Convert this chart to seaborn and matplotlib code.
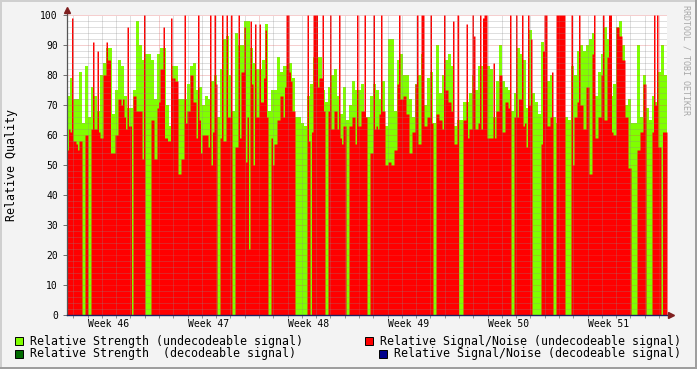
import numpy as np
import pandas as pd
import matplotlib
matplotlib.use("Agg")
import matplotlib.pyplot as plt
import seaborn as sns
from matplotlib.patches import Rectangle

# -----------------------------------------------------------------------------
# Data (6 weeks): strength one sample per ~5 h, signal/noise per ~2.5 h
# -----------------------------------------------------------------------------
strength_undec = [
    73, 79, 72, 72, 81, 64, 83, 66, 76, 73, 68, 80, 84, 89, 89, 67, 75, 85, 83, 73,
    69, 69, 75, 98, 90, 85, 87, 87, 85, 72, 87, 89, 89, 70, 63, 83, 83, 72, 72, 72,
    77, 83, 84, 75, 76, 70, 73, 72, 78, 80, 66, 82, 92, 93, 80, 68, 94, 90, 90, 98,
    98, 89, 84, 82, 82, 85, 97, 68, 75, 75, 86, 81, 83, 83, 84, 79, 66, 66, 64, 63,
    73, 77, 86, 86, 86, 75, 71, 76, 80, 82, 73, 67, 76, 65, 70, 78, 75, 75, 77, 66,
    66, 73, 77, 75, 72, 78, 63, 92, 92, 68, 85, 87, 80, 80, 72, 66, 77, 80, 87, 70,
    79, 81, 64, 90, 74, 80, 85, 87, 83, 63, 65, 65, 71, 71, 74, 80, 75, 83, 83, 83,
    83, 82, 66, 78, 90, 78, 76, 75, 68, 74, 89, 87, 85, 69, 95, 74, 71, 67, 91, 72,
    78, 80, 66, 64, 64, 64, 66, 65, 83, 80, 88, 90, 88, 90, 92, 94, 73, 81, 87, 96,
    92, 73, 77, 96, 98, 90, 70, 72, 64, 64, 90, 66, 80, 69, 65, 73, 71, 81, 90, 80,
]
snr_undec = [
    55, 62, 61, 99, 58, 58, 57, 55, 58, 58, 0, 0, 60, 60, 0, 0, 62, 91, 62, 62,
    88, 61, 59, 59, 80, 80, 91, 85, 85, 54, 54, 54, 60, 60, 72, 72, 70, 72, 66, 62,
    96, 63, 63, 0, 73, 73, 68, 68, 68, 68, 52, 100, 0, 0, 0, 0, 65, 65, 52, 52,
    69, 71, 82, 82, 96, 59, 59, 58, 58, 99, 79, 79, 78, 78, 47, 47, 52, 52, 100, 64,
    68, 68, 80, 80, 71, 71, 59, 100, 65, 54, 60, 60, 60, 60, 56, 100, 50, 61, 100, 77,
    0, 0, 59, 100, 58, 58, 100, 66, 66, 100, 0, 0, 56, 56, 100, 59, 81, 81, 96, 51,
    66, 22, 98, 77, 50, 97, 66, 66, 97, 71, 71, 79, 95, 66, 0, 0, 59, 50, 57, 57,
    65, 65, 73, 73, 66, 76, 100, 100, 81, 78, 68, 68, 0, 0, 0, 0, 0, 0, 0, 0,
    100, 58, 0, 61, 100, 100, 100, 76, 79, 79, 100, 68, 0, 0, 68, 100, 62, 62, 68, 68,
    62, 100, 59, 57, 63, 63, 0, 0, 63, 63, 66, 66, 57, 100, 63, 63, 68, 68, 100, 66,
    0, 0, 54, 54, 100, 62, 63, 62, 67, 100, 68, 68, 50, 50, 51, 51, 50, 50, 55, 55,
    77, 100, 72, 72, 73, 73, 67, 67, 54, 54, 61, 61, 77, 100, 57, 57, 100, 100, 63, 63,
    66, 66, 100, 64, 0, 0, 67, 67, 65, 65, 62, 100, 75, 75, 71, 71, 68, 98, 57, 57,
    100, 0, 0, 0, 65, 65, 97, 59, 62, 62, 100, 93, 62, 62, 64, 100, 62, 99, 100, 100,
    59, 59, 59, 59, 84, 59, 68, 68, 80, 80, 61, 61, 71, 71, 69, 100, 0, 0, 66, 100,
    66, 72, 72, 100, 63, 64, 56, 100, 70, 92, 0, 0, 0, 0, 0, 0, 57, 88, 100, 100,
    63, 63, 66, 81, 0, 0, 100, 100, 100, 100, 100, 100, 0, 0, 0, 0, 100, 50, 66, 66,
    71, 100, 70, 70, 62, 62, 76, 76, 47, 47, 87, 100, 59, 59, 66, 66, 80, 100, 65, 65,
    86, 100, 100, 61, 60, 60, 96, 96, 93, 93, 85, 85, 66, 66, 49, 49, 0, 0, 0, 0,
    55, 55, 61, 61, 77, 77, 0, 0, 0, 0, 61, 100, 70, 100, 56, 56, 0, 61, 61, 61,
]
week_labels = ["Week 46", "Week 47", "Week 48", "Week 49", "Week 50", "Week 51"]
legend_labels = [
    "Relative Strength (undecodeable signal)",
    "Relative Strength  (decodeable signal)",
    "Relative Signal/Noise (undecodeable signal)",
    "Relative Signal/Noise (decodeable signal)",
]

# -----------------------------------------------------------------------------
# Layout constants (rrdtool look)
# -----------------------------------------------------------------------------
W, H = 697, 369
PX_LEFT, PX_RIGHT, PX_TOP, PX_BOTTOM = 67, 667, 15, 315
DAY_PER_PX = 7 / 100          # one week = 100 px
T0 = 0.56                     # start, days after monday week 46
T1 = T0 + (PX_RIGHT - PX_LEFT) * DAY_PER_PX

GREEN, RED = "#80FF00", "#FF0000"
DARKGREEN, NAVY = "#006A00", "#00008B"
BACK, SHADEA, SHADEB = "#F3F3F3", "#CFCFCF", "#9E9E9E"
MGRID = (0.87, 0.31, 0.31, 0.55)
GRID = (0.55, 0.55, 0.55, 0.55)
ARROW = "#7F1F1F"
MONO = ["DejaVu Sans Mono"]


def series_frame(values):
    """Place samples evenly over the plotted time span."""
    step = (T1 - T0) / len(values)
    return pd.DataFrame({"day": T0 + step * (np.arange(len(values)) + 0.5),
                         "value": values}), step


plt.rcParams["font.family"] = MONO
fig = plt.figure(figsize=(W / 100, H / 100), dpi=100, facecolor=BACK)
ax = fig.add_axes([PX_LEFT / W, 1 - PX_BOTTOM / H,
                   (PX_RIGHT - PX_LEFT) / W, (PX_BOTTOM - PX_TOP) / H])
ax.set_facecolor("white")

for values, color, z in [(strength_undec, GREEN, 1), (snr_undec, RED, 2)]:
    df, step = series_frame(values)
    sns.histplot(data=df, x="day", weights="value", binwidth=step, binrange=(T0, T1),
                 element="step", fill=True, alpha=1, linewidth=0, color=color,
                 zorder=z, ax=ax)

ax.set_xlim(T0, T1)
ax.set_ylim(0, 100)
ax.set_xlabel("")
ax.set_ylabel("")
for s in ax.spines.values():
    s.set_visible(False)

# grid on top of the data, dotted like rrdtool
dots = (0, (1, 1))
for y in range(2, 101, 2):
    ax.axhline(y, color=MGRID if y % 10 == 0 else GRID, lw=0.72, ls=dots, zorder=3)
for d in range(1, 43):
    ax.axvline(d, color=MGRID if d % 7 == 0 else GRID, lw=0.72, ls=dots, zorder=3)

ax.set_xticks([3.5 + 7 * k for k in range(len(week_labels))], week_labels)
ax.set_xticks(range(1, 43), minor=True)
ax.tick_params(axis="x", which="major", length=0, pad=3, labelsize=7)
ax.tick_params(axis="x", which="minor", length=2, width=0.7, color="#909090")
ax.set_yticks(range(0, 101, 10), [str(v) for v in range(0, 101, 10)])
ax.tick_params(axis="y", which="major", length=3, width=0.7, color="#707070",
               pad=3.5, labelsize=7)

# axes with arrow heads
ax.plot([T0, T0], [0, 101.5], color="#555555", lw=0.9, clip_on=False, zorder=5)
ax.plot([T0, T1 + 0.2], [0, 0], color="#1F1F5F", lw=1.0, clip_on=False, zorder=5)
ax.plot([T0], [101.7], marker="^", ms=5, color=ARROW, clip_on=False, zorder=6)
ax.plot([T1 + 0.3], [0], marker=">", ms=5, color=ARROW, clip_on=False, zorder=6)

fig.text(12 / W, 1 - 165 / H, "Relative Quality", rotation=90, ha="center",
         va="center", fontsize=8.4, family=MONO)
fig.text(686 / W, 1 - 5 / H, "RRDTOOL / TOBI OETIKER", rotation=-90, ha="center",
         va="top", fontsize=6, color="#A8A8A8", family=MONO)

# legend
entries = [
    (15, 341, 30, GREEN, legend_labels[0]),
    (15, 354, 30, DARKGREEN, legend_labels[1]),
    (365, 341, 380, RED, legend_labels[2]),
    (379, 354, 394, NAVY, legend_labels[3]),
]
for sx, cy, tx, col, label in entries:
    fig.add_artist(Rectangle((sx / W, 1 - (cy + 4) / H), 8 / W, 8 / H,
                             transform=fig.transFigure, facecolor=col,
                             edgecolor="black", lw=0.7))
    fig.text(tx / W, 1 - cy / H, label, ha="left", va="center",
             fontsize=8.4, family=MONO)

# 3d frame
fig.add_artist(Rectangle((0, 1 - 2 / H), 1, 2 / H, transform=fig.transFigure, color=SHADEA, lw=0))
fig.add_artist(Rectangle((0, 0), 2 / W, 1, transform=fig.transFigure, color=SHADEA, lw=0))
fig.add_artist(Rectangle((0, 0), 1, 2 / H, transform=fig.transFigure, color=SHADEB, lw=0))
fig.add_artist(Rectangle((1 - 2 / W, 0), 2 / W, 1, transform=fig.transFigure, color=SHADEB, lw=0))

fig.savefig("out.png", dpi=100, facecolor=BACK)
